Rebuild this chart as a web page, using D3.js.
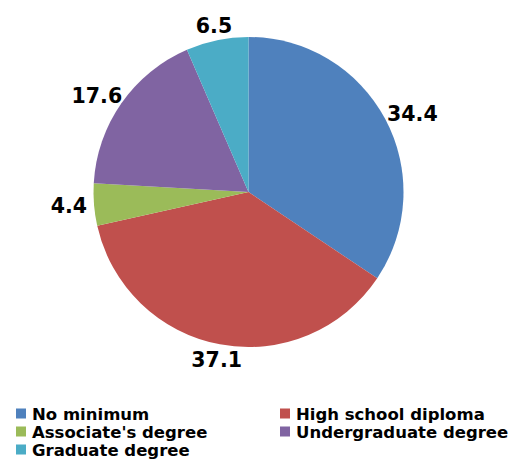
<!DOCTYPE html>
<html>
<head>
<meta charset="utf-8">
<script src="https://cdn.jsdelivr.net/npm/d3@7"></script>
<style>
  body { margin: 0; background: #fff; }
  text { font-family: "DejaVu Sans", Verdana, sans-serif; font-weight: bold; fill: #000; }
</style>
</head>
<body>
<script>
// chart data
var categories = ["No minimum", "High school diploma", "Associate's degree", "Undergraduate degree", "Graduate degree"];
var values = [34.4, 37.1, 4.4, 17.6, 6.5];
var colors = ["#4F81BD", "#C0504D", "#9BBB59", "#8064A2", "#4BACC6"];

var width = 527, height = 460;
var cx = 248.5, cy = 192, radius = 155;

var svg = d3.select("body").append("svg")
    .attr("width", width)
    .attr("height", height);

var pie = d3.pie().sort(null).value(function(d){ return d; });
var arcs = pie(values);
var arc = d3.arc().innerRadius(0).outerRadius(radius);

var g = svg.append("g").attr("transform", "translate(" + cx + "," + cy + ")");

g.selectAll("path")
  .data(arcs)
  .enter()
  .append("path")
  .attr("d", arc)
  .attr("fill", function(d, i){ return colors[i]; });

// labels outside the slices
var labels = g.selectAll("text.lbl")
  .data(arcs)
  .enter()
  .append("text")
  .attr("class", "lbl")
  .style("font-size", "20.5px")
  .attr("text-anchor", "middle")
  .text(function(d){ return d.value.toFixed(1); });

labels.each(function(d){
  var a = (d.startAngle + d.endAngle) / 2;
  var s = Math.sin(a), c = -Math.cos(a);
  var w = this.getBBox().width, h = 15;
  var rr = radius + 7;
  var x = rr * s + (w / 2) * s * Math.sqrt(Math.abs(s));
  var y = rr * c + (h / 2 + 1) * c * Math.sqrt(Math.abs(c));
  d3.select(this).attr("x", x).attr("y", y + h / 2);
});

// legend
var legend = svg.selectAll("g.leg")
  .data(categories)
  .enter()
  .append("g")
  .attr("class", "leg")
  .attr("transform", function(d, i){
    var col = i % 2, row = Math.floor(i / 2);
    return "translate(" + (col == 0 ? 16 : 280) + "," + (413.5 + row * 18) + ")";
  });

legend.append("rect")
  .attr("x", 0).attr("y", -5)
  .attr("width", 10).attr("height", 10)
  .attr("fill", function(d, i){ return colors[i]; });

legend.append("text")
  .attr("x", 16)
  .attr("y", 6)
  .style("font-size", "16.5px")
  .text(function(d){ return d; });
</script>
</body>
</html>
